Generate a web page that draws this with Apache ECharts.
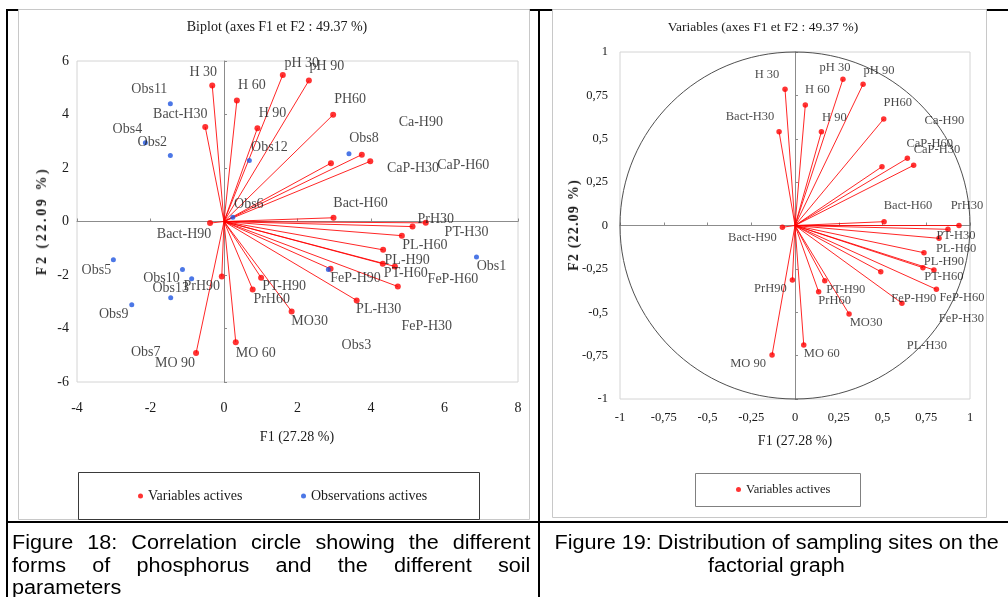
<!DOCTYPE html>
<html><head><meta charset="utf-8">
<script src="https://cdn.jsdelivr.net/npm/echarts@6/dist/echarts.min.js"></script>
<style>
html,body{margin:0;padding:0;background:#fff;}
#wrap{position:relative;width:1008px;height:597px;overflow:hidden;background:#fff;}
#chart{position:absolute;left:0;top:0;width:1008px;height:597px;}
.cap{position:absolute;font-family:"Liberation Sans",Arial,sans-serif;font-size:20px;color:#000;line-height:22.5px;}
.just{text-align:justify;text-align-last:justify;transform-origin:0 0;transform:scaleX(1.08);width:480px;}
.ctr{text-align:center;white-space:nowrap;}
.ctr span{display:inline-block;transform:scaleX(1.08);}
.vname{position:absolute;font-family:"Liberation Serif","Times New Roman",serif;font-weight:bold;font-size:14px;color:#1a1a1a;white-space:nowrap;transform:translate(-50%,-50%) rotate(-90deg);}
</style></head>
<body><div id="wrap"><div id="chart"></div>
<div class="cap just" style="left:12px;top:531px;">Figure 18: Correlation circle showing the different</div>
<div class="cap just" style="left:12px;top:553.5px;">forms of phosphorus and the different soil</div>
<div class="cap" style="left:12px;top:576px;transform-origin:0 0;transform:scaleX(1.08);">parameters</div>
<div class="cap ctr" style="left:545px;top:531px;width:463px;"><span>Figure 19: Distribution of sampling sites on the</span></div>
<div class="cap ctr" style="left:545px;top:553.5px;width:463px;"><span>factorial graph</span></div>
<div class="vname" style="left:42px;top:221px;letter-spacing:2.6px;">F2 (22.09 %)</div>
<div class="vname" style="left:574px;top:225px;letter-spacing:1.2px;">F2 (22.09 %)</div>
</div>
<script>
// ---------- data ----------
const varNames = ['H 30','Bact-H30','H 60','H 90','pH 30','pH 90','PH60','Ca-H90','CaP-H30','CaP-H60','Bact-H60','PrH30','PT-H30','PL-H60','PL-H90','PT-H60','FeP-H60','FeP-H30','FeP-H90','PL-H30','MO30','PT-H90','PrH60','MO 60','MO 90','PrH90','Bact-H90'];
const biplotVarF1 = [-0.32,-0.51,0.35,0.91,1.60,2.31,2.97,3.75,2.91,3.98,2.98,5.49,5.13,4.84,4.33,4.32,4.65,4.73,2.90,3.61,1.84,1.01,0.78,0.32,-0.76,-0.06,-0.38];
const biplotVarF2 = [5.08,3.53,4.52,3.49,5.48,5.27,3.99,2.50,2.18,2.25,0.14,-0.05,-0.19,-0.53,-1.06,-1.58,-1.68,-2.43,-1.77,-2.95,-3.36,-2.10,-2.54,-4.51,-4.92,-2.06,-0.06];
const obsNames = ['Obs1','Obs2','Obs3','Obs4','Obs5','Obs6','Obs7','Obs8','Obs9','Obs10','Obs11','Obs12','Obs13'];
const obsF1 = [6.87,-1.46,2.84,-2.14,-3.01,0.24,-1.45,3.40,-2.51,-1.13,-1.46,0.69,-0.88];
const obsF2 = [-1.33,2.47,-1.79,2.94,-1.43,0.16,-2.85,2.53,-3.11,-1.79,4.40,2.28,-2.14];
const circleF1 = [-0.057,-0.091,0.059,0.151,0.274,0.389,0.507,0.642,0.497,0.678,0.509,0.937,0.874,0.823,0.737,0.731,0.794,0.808,0.490,0.611,0.309,0.170,0.135,0.050,-0.131,-0.015,-0.072];
const circleF2 = [0.785,0.541,0.695,0.541,0.843,0.814,0.614,0.387,0.339,0.347,0.022,0.0,-0.022,-0.074,-0.157,-0.243,-0.256,-0.368,-0.266,-0.448,-0.510,-0.318,-0.382,-0.689,-0.746,-0.314,-0.010];
const biplotXTicks = {min:-4, max:8, interval:2};
const biplotYTicks = {min:-6, max:6, interval:2};
const circleTicks = {min:-1, max:1, interval:0.25};

// ---------- label placement (style, px offsets from point) ----------
const biplotVarLabelOffset = {'H 30':[-9,-13],'Bact-H30':[-25,-13],'H 60':[15,-15],'H 90':[15,-15],'pH 30':[19,-12],'pH 90':[18,-14],'PH60':[17,-15],'Ca-H90':[59,-32],'CaP-H30':[82,5],'CaP-H60':[93,4],'Bact-H60':[27,-14],'PrH30':[10,-4],'PT-H30':[54,6],'PL-H60':[23,10],'PL-H90':[24,10],'PT-H60':[23,10],'FeP-H60':[58,13],'FeP-H30':[29,40],'FeP-H90':[25,9],'PL-H30':[22,9],'MO30':[18,10],'PT-H90':[23,9],'PrH60':[19,10],'MO 60':[20,11],'MO 90':[-21,10],'PrH90':[-20,10],'Bact-H90':[-26,11]};
const obsLabelOffset = {'Obs1':[15,9],'Obs2':[-18,-13],'Obs3':[28,76],'Obs4':[-18,-14],'Obs5':[-17,11],'Obs6':[16,-13],'Obs7':[-25,55],'Obs8':[15,-15],'Obs9':[-18,10],'Obs10':[-21,9],'Obs11':[-21,-14],'Obs12':[20,-13],'Obs13':[-21,10]};
const circleLabelOffset = {'H 30':[-18,-15],'Bact-H30':[-29,-15],'H 60':[12,-15],'H 90':[13,-14],'pH 30':[-8,-12],'pH 90':[16,-14],'PH60':[14,-16],'Ca-H90':[37,-38],'CaP-H30':[55,-17],'CaP-H60':[16,-22],'Bact-H60':[24,-16],'PrH30':[8,-20],'PT-H30':[8,6],'PL-H60':[17,10],'PL-H90':[20,9],'PT-H60':[21,9],'FeP-H60':[28,28],'FeP-H30':[25,29],'FeP-H90':[33,27],'PL-H30':[25,42],'MO30':[17,9],'PT-H90':[21,9],'PrH60':[16,9],'MO 60':[18,9],'MO 90':[-24,9],'PrH90':[-22,9],'Bact-H90':[-30,10]};

const serif = '"Liberation Serif","Times New Roman",serif';
const RED = '#ff0000', BLUE = '#1f55e0';
const labelL = {show:true, position:'inside', fontFamily:serif, fontSize:14, color:'#1a1a1a'};
const labelR = {show:true, position:'inside', fontFamily:serif, fontSize:12.5, color:'#1a1a1a'};

function pts(names, xs, ys, offs){
  return names.map((n,i)=>({name:n, value:[xs[i], ys[i]], label:{offset:offs[n], formatter:n}}));
}
function vecs(xs, ys){
  return xs.map((x,i)=>({coords:[[0,0],[x, ys[i]]]}));
}
function labelAxis(grid, t, pos, margin, size, fmt){
  return {gridIndex:grid, type:'value', min:t.min, max:t.max, interval:t.interval, position:pos,
    axisLine:{show:false,onZero:false}, axisTick:{show:false}, splitLine:{show:false},
    axisLabel:{margin:margin, fontFamily:serif, fontSize:size, color:'#1a1a1a', formatter:fmt}};
}
function zeroAxis(grid, t, otherIdx){
  return {gridIndex:grid, type:'value', min:t.min, max:t.max, interval:t.interval,
    axisLine:{show:true,onZero:true,onZeroAxisIndex:otherIdx,lineStyle:{color:'#8c8c8c',width:1}},
    axisTick:{show:true,length:3,lineStyle:{color:'#8c8c8c'}}, axisLabel:{show:false}, splitLine:{show:false}};
}
const comma = v => String(v).replace('.', ',');

const chart = echarts.init(document.getElementById('chart'), null, {renderer:'canvas'});
const txt = (t, x, y, size) => ({type:'text', x:x, y:y, z:5,
  style:{text:t, font:(size||14)+'px '+serif, fill:'#1a1a1a', textAlign:'center', textVerticalAlign:'middle'}});
const box = (x,y,w,h,stroke,fill,z) => ({type:'rect', z:z, shape:{x:x,y:y,width:w,height:h}, style:{fill:fill||'none', stroke:stroke, lineWidth:1}});
const bar = (x,y,w,h) => ({type:'rect', z:-3, shape:{x:x,y:y,width:w,height:h}, style:{fill:'#000'}});
const legendStyle = (size) => ({padding:0, icon:'circle', itemWidth:5, itemHeight:5, selectedMode:false, textStyle:{fontFamily:serif, fontSize:size, color:'#1a1a1a'}});

chart.setOption({
  animation:false,
  grid:[
    {left:77, top:61, width:441, height:321, show:true, borderColor:'#d4d4d4', borderWidth:1, backgroundColor:'transparent'},
    {left:620, top:52, width:350, height:347, show:true, borderColor:'#d4d4d4', borderWidth:1, backgroundColor:'transparent'}
  ],
  xAxis:[
    labelAxis(0, biplotXTicks, 'bottom', 19, 14),
    zeroAxis(0, biplotXTicks, 0),
    labelAxis(1, circleTicks, 'bottom', 12, 12.5, comma),
    zeroAxis(1, circleTicks, 2)
  ],
  yAxis:[
    labelAxis(0, biplotYTicks, 'left', 8, 14),
    zeroAxis(0, biplotYTicks, 0),
    labelAxis(1, circleTicks, 'left', 12, 12.5, comma),
    zeroAxis(1, circleTicks, 2)
  ],
  legend:[
    Object.assign({data:['Variables actives'], left:138, top:489}, legendStyle(14)),
    Object.assign({data:['Observations actives'], left:301, top:489}, legendStyle(14)),
    Object.assign({data:['Variables actives'], left:736, top:483}, legendStyle(12.5))
  ],
  series:[
    {type:'lines', name:'vecL', coordinateSystem:'cartesian2d', xAxisIndex:0, yAxisIndex:0, silent:true, z:2,
      lineStyle:{color:RED, width:1, opacity:0.85}, data:vecs(biplotVarF1, biplotVarF2)},
    {type:'scatter', name:'Variables actives', xAxisIndex:0, yAxisIndex:0, symbolSize:6, z:4,
      itemStyle:{color:RED}, label:labelL, data:pts(varNames, biplotVarF1, biplotVarF2, biplotVarLabelOffset)},
    {type:'scatter', name:'Observations actives', xAxisIndex:0, yAxisIndex:0, symbolSize:5, z:5,
      itemStyle:{color:BLUE}, label:labelL, data:pts(obsNames, obsF1, obsF2, obsLabelOffset)},
    {type:'custom', name:'circle', xAxisIndex:2, yAxisIndex:2, silent:true, z:1, clip:false, data:[[0,0]],
      renderItem:function(params, api){
        const c = api.coord([0,0]); const s = api.size([1,1]);
        return {type:'ellipse', shape:{cx:c[0], cy:c[1], rx:s[0], ry:s[1]}, style:{fill:'none', stroke:'#505050', lineWidth:1}};
      }},
    {type:'lines', name:'vecR', coordinateSystem:'cartesian2d', xAxisIndex:2, yAxisIndex:2, silent:true, z:2,
      lineStyle:{color:RED, width:1, opacity:0.85}, data:vecs(circleF1, circleF2)},
    {type:'scatter', name:'Variables actives', xAxisIndex:2, yAxisIndex:2, symbolSize:5.5, z:4,
      itemStyle:{color:RED}, label:labelR, data:pts(varNames, circleF1, circleF2, circleLabelOffset)}
  ],
  graphic:[
    bar(7,9,1001,2), bar(6,9,2,588), bar(538,9,2,588), bar(6,521,1002,2),
    box(18.5,9.5,511,510,'#c8c8c8','#fff',-2),
    box(552.5,9.5,434,508,'#c8c8c8','#fff',-2),
    box(78.5,472.5,401,47,'#3a3a3a',null,-1),
    box(695.5,473.5,165,33,'#808080',null,-1),
    txt('Biplot (axes F1 et F2 : 49.37 %)', 277, 27),
    txt('Variables (axes F1 et F2 : 49.37 %)', 763, 27, 13.5),
    txt('F1 (27.28 %)', 297, 437),
    txt('F1 (27.28 %)', 795, 441)
  ]
});
</script>
</body></html>
